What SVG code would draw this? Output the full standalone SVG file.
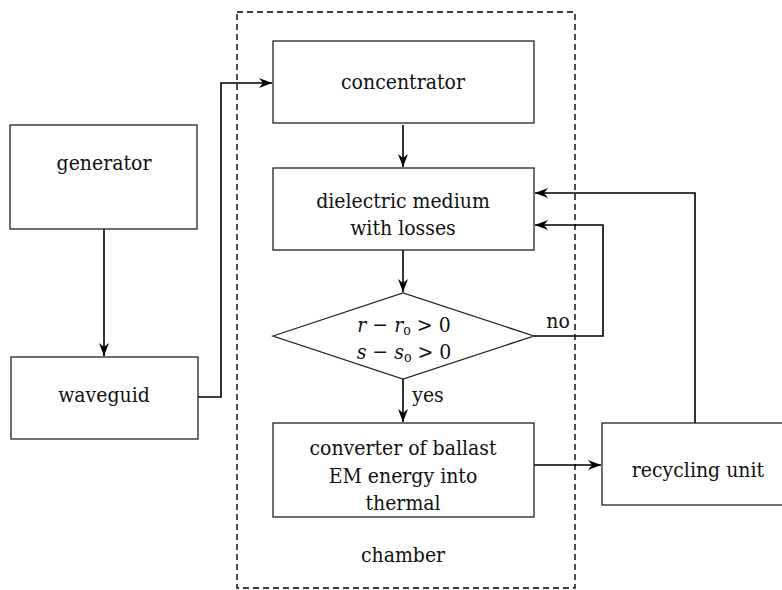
<svg xmlns="http://www.w3.org/2000/svg" width="782" height="590" viewBox="0 0 782 590">
<defs>
<style>
.box{fill:#fff;stroke:#222;stroke-width:1.3}
.ln{fill:none;stroke:#000;stroke-width:1.6}
.t{font-family:'DejaVu Serif Condensed','DejaVu Serif',serif;font-stretch:condensed;font-size:21px;fill:#111;text-anchor:middle}
.i{font-style:italic}
.dash{fill:none;stroke:#000;stroke-width:1.4;stroke-dasharray:6,4}
</style>
<marker id="ah" markerWidth="14" markerHeight="10" refX="13" refY="5" orient="auto" markerUnits="userSpaceOnUse">
<path d="M0,0 L13,5 L0,10 L4,5 Z" fill="#000"/>
</marker>
</defs>
<rect width="782" height="590" fill="#fff"/>
<g id="chamber">
<rect class="dash" x="237" y="12" width="338" height="576"/>
<text class="t" x="403" y="562">chamber</text>
</g>
<g id="connectors">
<line class="ln" x1="104" y1="229" x2="104" y2="356" marker-end="url(#ah)"/>
<polyline class="ln" points="198,397 221,397 221,83 272,83" marker-end="url(#ah)"/>
<line class="ln" x1="403" y1="125" x2="403" y2="167" marker-end="url(#ah)"/>
<line class="ln" x1="403" y1="250" x2="403" y2="292" marker-end="url(#ah)"/>
<line class="ln" x1="403" y1="379" x2="403" y2="422" marker-end="url(#ah)"/>
<polyline class="ln" points="534,336 603,336 603,225 535,225" marker-end="url(#ah)"/>
<polyline class="ln" points="695,423 695,193 535,193" marker-end="url(#ah)"/>
<line class="ln" x1="534" y1="465" x2="601" y2="465" marker-end="url(#ah)"/>
<text class="t" x="558" y="328">no</text>
<text class="t" x="428" y="402">yes</text>
</g>
<g id="generator">
<rect class="box" x="10" y="125" width="187" height="104"/>
<text class="t" x="104" y="170">generator</text>
</g>
<g id="waveguid">
<rect class="box" x="11" y="357" width="187" height="82"/>
<text class="t" x="104" y="402">waveguid</text>
</g>
<g id="concentrator">
<rect class="box" x="273" y="41" width="261" height="82"/>
<text class="t" x="403" y="89">concentrator</text>
</g>
<g id="dielectric">
<rect class="box" x="273" y="168" width="261" height="82"/>
<text class="t" x="403" y="208">dielectric medium</text>
<text class="t" x="403" y="235">with losses</text>
</g>
<g id="decision">
<polygon class="box" points="273,336 403,293 534,336 403,379"/>
<text class="t" x="404" y="332"><tspan class="i">r</tspan> − <tspan class="i">r</tspan><tspan font-size="14" dy="3">o</tspan><tspan dy="-3"> &gt; 0</tspan></text>
<text class="t" x="404" y="359"><tspan class="i">s</tspan> − <tspan class="i">s</tspan><tspan font-size="14" dy="3">o</tspan><tspan dy="-3"> &gt; 0</tspan></text>
</g>
<g id="converter">
<rect class="box" x="273" y="423" width="261" height="94"/>
<text class="t" x="403" y="455">converter of ballast</text>
<text class="t" x="403" y="483">EM energy into</text>
<text class="t" x="403" y="510">thermal</text>
</g>
<g id="recycling">
<rect class="box" x="602" y="423" width="192" height="82"/>
<text class="t" x="698" y="477">recycling unit</text>
</g>
</svg>
